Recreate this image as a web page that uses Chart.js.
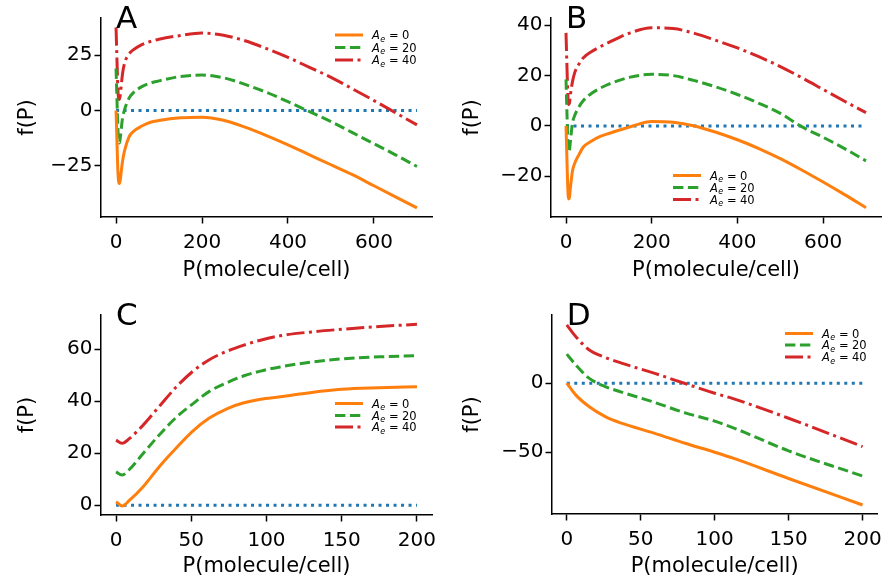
<!DOCTYPE html>
<html>
<head>
<meta charset="utf-8">
<script src="https://cdn.jsdelivr.net/npm/chart.js@4.4.0/dist/chart.umd.min.js"></script>
<style>
body { margin: 0; background: #fff; width: 889px; height: 586px; position: relative; overflow: hidden; }
canvas { position: absolute; }
</style>
</head>
<body>
<canvas id="chartA" width="445" height="290" style="left:0;top:0"></canvas>
<canvas id="chartB" width="444" height="290" style="left:445px;top:0"></canvas>
<canvas id="chartC" width="445" height="296" style="left:0;top:290px"></canvas>
<canvas id="chartD" width="444" height="296" style="left:445px;top:290px"></canvas>
<script>
// P values (molecule/cell) for the top panels
const pAB = [0, 2, 4, 6, 8, 10, 15, 20, 30, 40, 60, 80, 100, 150, 200, 250, 300, 350, 400, 450, 500, 550, 600, 650, 700];

const aOrange = [0, -13, -26, -32, -33, -31, -23, -18, -12, -9.5, -7, -5.3, -4.5, -3.3, -3.0, -4.4, -7.5, -11.3, -15.5, -20, -24.5, -29, -34, -39, -44];
const aGreen = [19, 6, -7, -13.5, -14.7, -12, -3.5, 0.5, 5.5, 8, 10.8, 12.4, 13.4, 15.4, 16, 14.8, 11.8, 8.2, 4, -0.5, -5, -10, -15, -20, -25.3];
const aRed = [37.5, 24, 11, 5.2, 5, 7.5, 16.5, 21.5, 25.5, 27.4, 29.8, 31.2, 32.2, 33.9, 35, 34, 31.5, 28, 24, 19.5, 15, 9.8, 4.5, -1, -6.5];

const bOrange = [0, -12, -24, -29, -28.5, -25, -18, -15, -11.5, -8.5, -6, -4.2, -3, -0.3, 1.8, 1.5, 0, -2.5, -5.5, -9, -13, -17.5, -22.3, -27.3, -32.5];
const bGreen = [18.5, 6.5, -5, -10.3, -9.8, -6.5, 1, 4, 7.5, 10, 13, 15, 16.6, 19.4, 20.5, 20, 18, 15.5, 12.5, 9, 5, -0.3, -4.5, -9, -13.9];
const bRed = [37, 25, 14, 8.5, 9, 12, 17.5, 21, 24.5, 27, 29.6, 31.5, 33.2, 37, 39, 38.7, 36.8, 34, 31, 27.5, 23.6, 19.2, 14.5, 9.8, 5.3];

const pC = [0, 4, 9, 18, 29, 40, 51, 62, 74, 85, 96, 109, 130, 150, 175, 200];
const cOrange = [1.3, -0.3, 1.9, 7.1, 15, 22, 28.5, 33.5, 37.2, 39.4, 40.8, 41.7, 43.4, 44.6, 45.2, 45.6];
const cGreen = [12.8, 11.6, 13.8, 19.9, 27.2, 33.8, 39, 43.8, 47.2, 49.8, 51.6, 53.2, 55.1, 56.3, 57.1, 57.5];
const cRed = [25, 23.8, 25.7, 30.8, 38.2, 45.5, 51.5, 56, 59.3, 61.6, 63.5, 65.2, 66.7, 67.7, 68.8, 69.6];

const pD = [0, 6, 15, 26, 37, 59, 80, 100, 113, 150, 200];
const dOrange = [0, -8.5, -16.9, -24.2, -29, -36.2, -43.5, -50, -54.5, -69, -88.2];
const dGreen = [21, 13.3, 3.6, -2.5, -6.5, -13.8, -21.5, -27.5, -32.5, -49, -67.2];
const dRed = [42.2, 33.8, 24.1, 18.6, 14.5, 7.2, -0.3, -7.3, -11.4, -25.4, -45.9];

const zeroAB = [0, 700];
const zeroCD = [0, 200];

const xTicksAB = [0, 200, 400, 600];
const xTicksCD = [0, 50, 100, 150, 200];
const yTicksA = [-25, 0, 25];
const yTicksB = [-20, 0, 20, 40];
const yTicksC = [0, 20, 40, 60];
const yTicksD = [-50, 0];

const legendValues = [0, 20, 40];
const xTitle = 'P(molecule/cell)';
const yTitle = 'f(P)';

const FONT = 'DejaVu Sans';
const LW = 3;
const colors = ['#ff7f0e', '#2ca02c', '#d62728'];
const dashes = [[], [10.4, 4.5], [18, 4.5, 3, 4.5]];

Chart.defaults.font.family = FONT;
Chart.defaults.color = '#000';

const decoPlugin = {
    id: 'deco',
    afterDraw(chart, args, opts) {
        const ctx = chart.ctx;
        const area = chart.chartArea;
        ctx.save();
        // panel letter
        ctx.fillStyle = '#000';
        ctx.font = '31px ' + FONT;
        ctx.textBaseline = 'alphabetic';
        ctx.fillText(opts.letter, chart.scales.x.getPixelForValue(0), area.top + 10);
        // legend
        legendValues.forEach((v, i) => {
            const y = opts.rows[i];
            ctx.beginPath();
            ctx.strokeStyle = colors[i];
            ctx.lineWidth = LW;
            ctx.lineCap = 'butt';
            ctx.setLineDash(dashes[i]);
            ctx.moveTo(opts.lx, y);
            ctx.lineTo(opts.lx + 28, y);
            ctx.stroke();
            ctx.setLineDash([]);
            ctx.fillStyle = '#000';
            ctx.font = 'italic 11.5px ' + FONT;
            ctx.fillText('A', opts.tx, y + 4);
            ctx.font = 'italic 8px ' + FONT;
            ctx.fillText('e', opts.tx + 8.3, y + 6.5);
            ctx.font = '11.5px ' + FONT;
            ctx.fillText('=', opts.tx + 17, y + 4);
            ctx.fillText(String(v), opts.tx + 30, y + 4);
        });
        ctx.restore();
    }
};

function series(xs, ys, i) {
    return {
        data: xs.map((x, k) => ({x: x, y: ys[k]})),
        borderColor: colors[i],
        borderWidth: LW,
        borderDash: dashes[i],
        borderJoinStyle: 'round',
        cubicInterpolationMode: 'monotone',
        pointRadius: 0,
        fill: false
    };
}

function makePanel(id, cfg) {
    const canvas = document.getElementById(id);
    const H = canvas.height, W = canvas.width;
    const datasets = [
        series(cfg.p, cfg.orange, 0),
        series(cfg.p, cfg.green, 1),
        series(cfg.p, cfg.red, 2),
        {
            data: cfg.zero.map(x => ({x: x, y: 0})),
            borderColor: '#1f77b4',
            borderWidth: LW,
            borderDash: [3, 4.5],
            pointRadius: 0,
            fill: false
        }
    ];
    const axisCommon = {
        type: 'linear',
        grid: {display: true, drawOnChartArea: false, drawTicks: true, tickLength: 6.5, tickWidth: 1.5, tickColor: '#000'},
        border: {display: true, color: '#000', width: 1.5},
        title: {display: true, font: {size: 21, family: FONT}, color: '#000'}
    };
    new Chart(canvas, {
        type: 'line',
        data: {datasets: datasets},
        options: {
            responsive: false,
            animation: false,
            layout: {padding: {top: cfg.top, right: W - cfg.right, left: 0, bottom: 0}},
            plugins: {
                legend: {display: false},
                tooltip: {enabled: false},
                deco: {letter: cfg.letter, lx: cfg.lx, tx: cfg.tx, rows: cfg.rows}
            },
            scales: {
                x: Object.assign({}, axisCommon, {
                    min: cfg.xmin, max: cfg.xmax,
                    title: Object.assign({}, axisCommon.title, {text: xTitle, padding: {top: 0, bottom: 7}}),
                    ticks: {font: {size: 20}, padding: 7, color: '#000', maxRotation: 0},
                    afterBuildTicks: s => { s.ticks = cfg.xTicks.map(v => ({value: v})); },
                    afterFit: s => { s.height = H - cfg.bottom; }
                }),
                y: Object.assign({}, axisCommon, {
                    min: cfg.ymin, max: cfg.ymax,
                    title: Object.assign({}, axisCommon.title, {text: yTitle, padding: {top: 15, bottom: 0}}),
                    ticks: {font: {size: 20}, padding: 2, color: '#000',
                        callback: v => String(v).replace('-', '\u2212')},
                    afterBuildTicks: s => { s.ticks = cfg.yTicks.map(v => ({value: v})); },
                    afterFit: s => { s.width = cfg.left; }
                })
            }
        },
        plugins: [decoPlugin]
    });
}

makePanel('chartA', {
    letter: 'A', p: pAB, orange: aOrange, green: aGreen, red: aRed, zero: zeroAB,
    xmin: -35, xmax: 735, ymin: -48.1, ymax: 41.8, xTicks: xTicksAB, yTicks: yTicksA,
    left: 101, right: 432, top: 18, bottom: 217,
    lx: 335, tx: 372, rows: [35, 47.5, 60]
});
makePanel('chartB', {
    letter: 'B', p: pAB, orange: bOrange, green: bGreen, red: bRed, zero: zeroAB,
    xmin: -35, xmax: 735, ymin: -36.2, ymax: 42.9, xTicks: xTicksAB, yTicks: yTicksB,
    left: 106, right: 436, top: 18, bottom: 217,
    lx: 228, tx: 265, rows: [175.5, 187.5, 199.5]
});
makePanel('chartC', {
    letter: 'C', p: pC, orange: cOrange, green: cGreen, red: cRed, zero: zeroCD,
    xmin: -10, xmax: 210, ymin: -3.8, ymax: 73.2, xTicks: xTicksCD, yTicks: yTicksC,
    left: 101, right: 432, top: 25, bottom: 225,
    lx: 335, tx: 372, rows: [113.5, 125.5, 137]
});
makePanel('chartD', {
    letter: 'D', p: pD, orange: dOrange, green: dGreen, red: dRed, zero: zeroCD,
    xmin: -10, xmax: 210, ymin: -94.7, ymax: 49.3, xTicks: xTicksCD, yTicks: yTicksD,
    left: 107, right: 436, top: 25, bottom: 224,
    lx: 340, tx: 377, rows: [43.5, 55, 67]
});
</script>
</body>
</html>
